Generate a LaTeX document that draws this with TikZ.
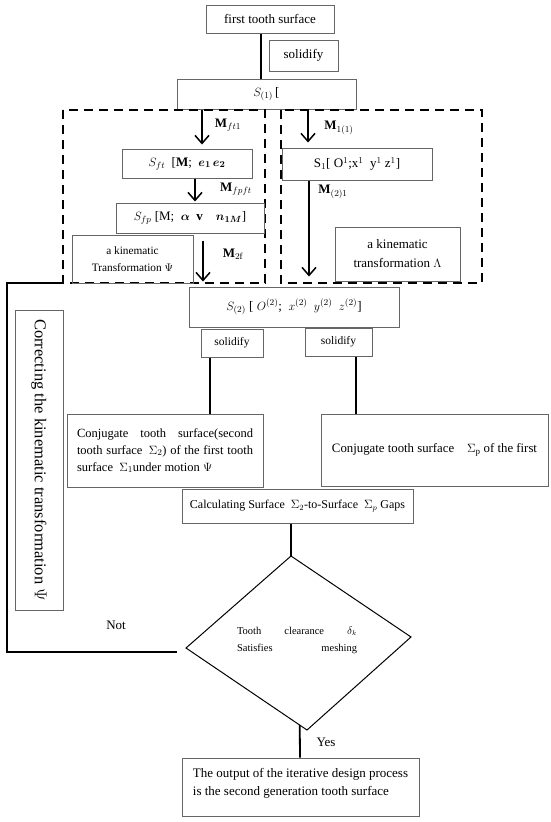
\documentclass[tikz,border=0pt]{standalone}
\usepackage{fontspec}
\setmainfont{Liberation Serif}
\usepackage{bm}
\usetikzlibrary{arrows.meta,calc}

\begin{document}
\begin{tikzpicture}[x=1pt,y=-1pt,
    font=\fontsize{13}{15.5}\selectfont,
    box/.style={draw=black!60, line width=1pt, inner sep=0pt, minimum width=#1},
    ln/.style={line width=1.8pt},
    arr/.style={line width=1.8pt, -{Straight Barb[length=8pt,width=14pt,line width=1.5pt]}},
    frame/.style={line width=2.6pt, dash pattern=on 9pt off 6pt}]
  \useasboundingbox (0,0) rectangle (550,822);

  \node[box=128, minimum height=28] (first) at (270,19) {first tooth surface};
  \node[box=69, minimum height=31] (sol1) at (303.5,55.5) {solidify};
  \node[box=179, minimum height=30] (s1b) at (266.5,94) {$S_{(1)}$\,[};

  % left frame
  \draw[frame] (63,110) rectangle (265,283);
  \coordinate (fL) at (63,283);
  \node[box=130, minimum height=29] (sft) at (187,163.5) {$S_{ft}$\enspace [\textbf{M};\enspace $\bm{e_1}\,\bm{e_2}$};
  \node[box=148, minimum height=30] (sfp) at (190,218) {$S_{fp}$ [M;\enspace $\bm{\alpha}$\enspace \textbf{v}\enspace\enspace $\bm{n_{1M}}$]};
  \node[box=121, minimum height=48, align=center, font=\fontsize{11.3}{17}\selectfont] (kinL) at (132.5,259) {a kinematic\\Transformation $\Psi$};

  % right frame
  \draw[frame] (281,110) rectangle (482,283);
  \node[box=150, minimum height=32] (s1) at (357,164) {S$_1$[ O$^1$;x$^1$\enspace y$^1$ z$^1$]};
  \node[box=125, minimum height=54, align=center, font=\fontsize{13}{19}\selectfont] (kinR) at (397.5,254) {a kinematic\\transformation $\Lambda$};

  \node[box=210, minimum height=40] (s2) at (294,307) {$S_{(2)}$ [ $O^{(2)}$;\enspace $x^{(2)}$\enspace $y^{(2)}$\enspace $z^{(2)}$]};
  \node[box=62, minimum height=28, font=\fontsize{11.5}{14}\selectfont] (solL) at (232,343) {solidify};
  \node[box=67, minimum height=28, font=\fontsize{11.5}{14}\selectfont] (solR) at (338.5,342) {solidify};

  \node[box=196, minimum height=73, text width=176pt, align=justify, font=\fontsize{12.5}{17}\selectfont] (conjL) at (165,450.5)
    {Conjugate tooth surface(second\linebreak tooth surface\enspace $\Sigma_2$) of the first tooth\linebreak surface\enspace $\Sigma_1$under motion $\Psi$};
  \node[box=227, minimum height=72, font=\fontsize{12.8}{15}\selectfont] (conjR) at (434.5,450) {Conjugate tooth surface\quad $\Sigma_{\mathrm{p}}$ of the first};
  \node[box=231, minimum height=34, font=\fontsize{12}{15}\selectfont] (calc) at (297.5,506) {Calculating Surface\enspace $\Sigma_2$-to-Surface\enspace $\Sigma_p$ Gaps};

  \node[box=48, minimum width=300, minimum height=48, rotate=-90, font=\fontsize{16.5}{20}\selectfont] (corr) at (39,460) {Correcting the kinematic transformation $\Psi$};

  % check
  \coordinate (dT) at (291,556);
  \coordinate (dR) at (411,637);
  \coordinate (dB) at (307,730);
  \coordinate (dL) at (186,648);
  \draw[line width=1pt] (dT) -- (dR) -- (dB) -- (dL) -- cycle;
  \node[text width=120pt, align=left, inner sep=0pt, font=\fontsize{10.5}{17}\selectfont] (chk) at (297,640)
    {Tooth\hfill clearance\hfill $\delta_k$\\Satisfies\hfill meshing};

  \node[box=237, minimum height=58, align=left, font=\fontsize{13}{18}\selectfont] (out) at (300.5,787)
    {The output of the iterative design process\\is the second generation tooth surface\\[-8pt]\mbox{}};

  % connectors
  \draw[ln] ([xshift=-9pt]first.south) -- ([xshift=-9pt]first.south |- s1b.north);
  \draw[arr, shorten >=4pt] (s1b.south -| 202,0) -- (sft.north -| 202,0);
  \draw[arr, shorten >=1pt] (sft.south -| 195,0) -- (sfp.north -| 195,0);
  \draw[arr, shorten <=7pt, shorten >=5pt] (sfp.south -| 203,0) -- (s2.north -| 203,0);
  \draw[arr, shorten >=5pt] (s1b.south -| 308,0) -- (s1.north -| 308,0);
  \draw[arr, shorten >=10pt] (s1.south -| 309,0) -- (s2.north -| 309,0);
  \draw[ln] (solL.south -| 210,0) -- (conjL.north -| 210,0);
  \draw[ln] (solR.south -| 356,0) -- (conjR.north -| 356,0);
  \draw[ln] (calc.south -| dT) -- (dT);
  \draw[ln] ($(dL)!0.94!(dB)$) -- (out.north -| 300,0);
  \draw[ln] (dL) ++(-9,4) -- ++(-170,0) |- (fL);

  \node (mft) at (228,125) {$\mathbf{M}_{ft1}$};
  \node (mfp) at (236,189) {$\mathbf{M}_{fpft}$};
  \node (m2f) at (233,254) {$\mathbf{M}_{2\mathrm{f}}$};
  \node (m11) at (339,128) {$\mathbf{M}_{1(1)}$};
  \node (m21) at (333,192) {$\mathbf{M}_{(2)1}$};
  \node (no) at (116,625) {Not};
  \node (yes) at (326,742) {Yes};
\end{tikzpicture}
\end{document}
